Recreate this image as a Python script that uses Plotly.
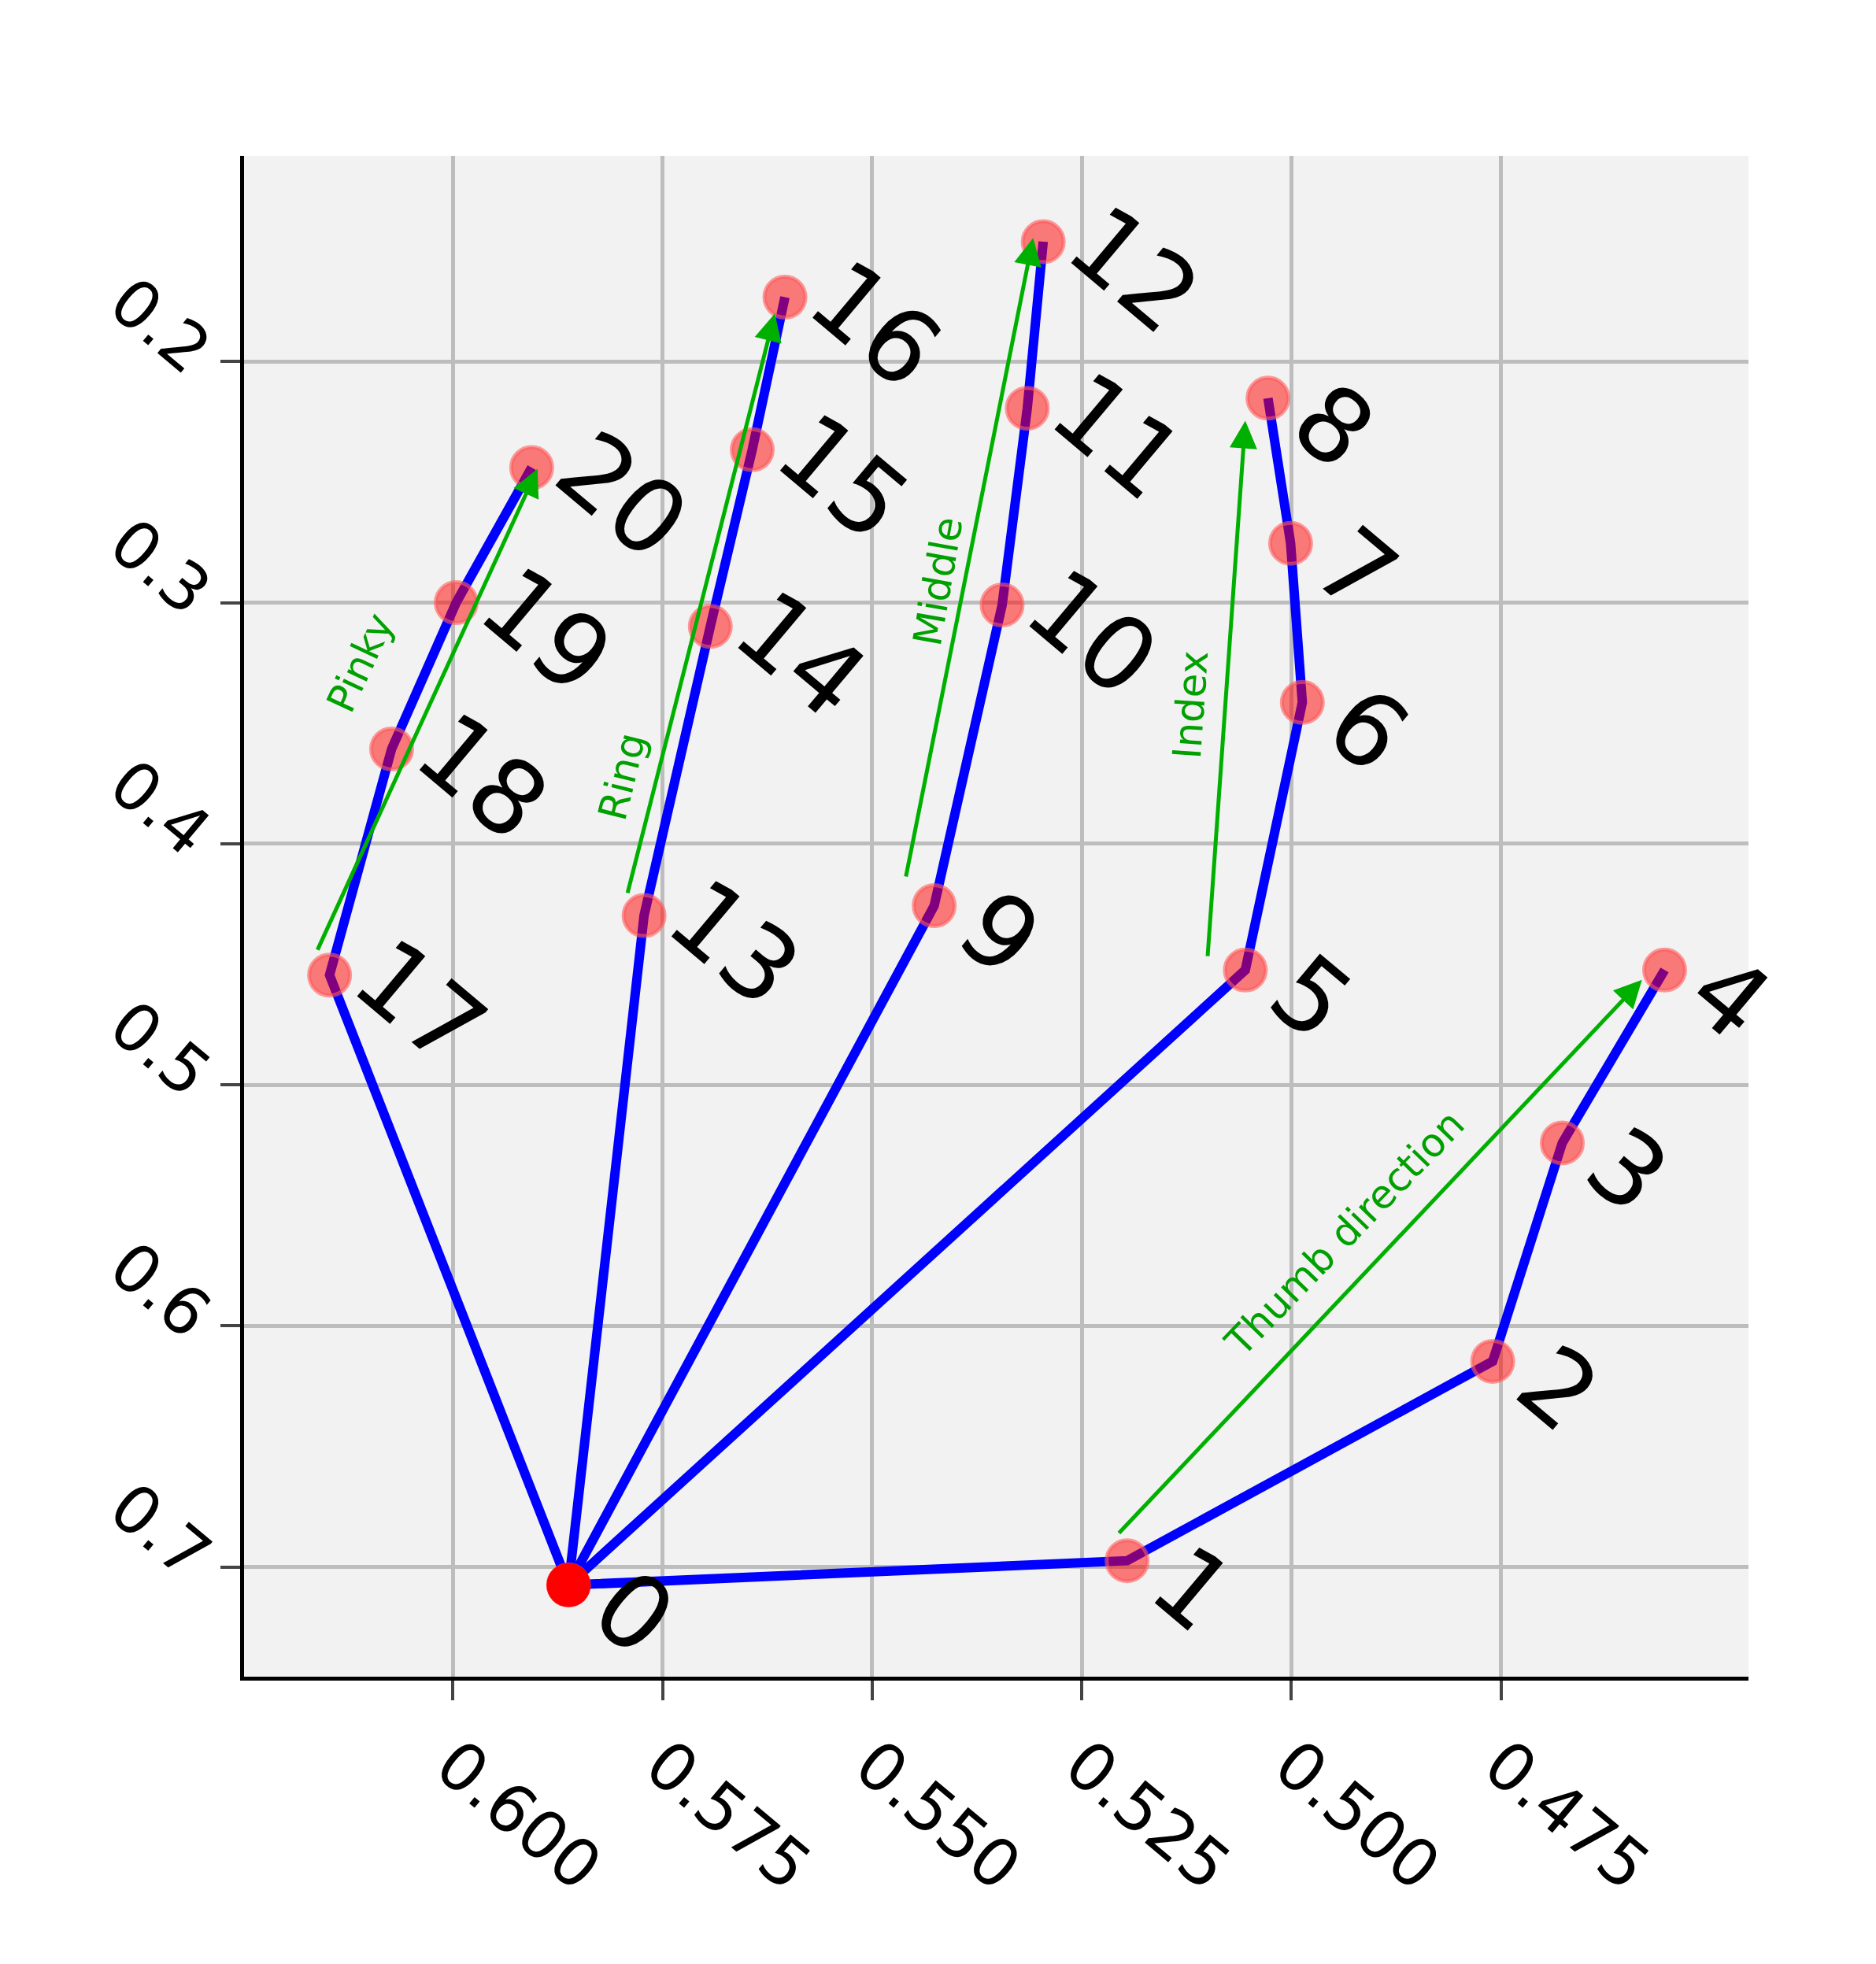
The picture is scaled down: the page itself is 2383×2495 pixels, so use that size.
import plotly.graph_objects as go

ids = list(range(21))
xs = [0.5862,0.5196,0.4760,0.4677,0.4555,0.5055,0.4987,0.5001,0.5028,0.5426,0.5345,
      0.5315,0.5296,0.5772,0.5693,0.5643,0.5604,0.6147,0.6073,0.5996,0.5906]
ys = [0.7075,0.6974,0.6147,0.5241,0.4524,0.4524,0.3414,0.2754,0.2152,0.4257,0.3010,
      0.2194,0.1503,0.4298,0.3099,0.2366,0.1733,0.4545,0.3607,0.3000,0.2440]
chains = [[0,1,2,3,4],[0,5,6,7,8],[0,9,10,11,12],[0,13,14,15,16],[0,17,18,19,20]]
arrow_names = ["Thumb direction","Index","Middle","Ring","Pinky"]
arrow_start = [(0.5207,0.6864),(0.5100,0.4471),(0.5460,0.4141),(0.5792,0.4209),(0.6162,0.4445)]
arrow_end = [(0.4582,0.4565),(0.5055,0.2246),(0.5308,0.1487),(0.5616,0.1801),(0.5899,0.2445)]
arrow_angle = [-46,-86,-80,-76,-65]
label_shift = [(-45,30),(-45,-20),(-40,-30),(-100,-220),(-85,60)]

fig = go.Figure()
for c in chains:
    fig.add_trace(go.Scatter(x=[xs[i] for i in c], y=[ys[i] for i in c], mode="lines",
                             line=dict(color="#0000ff", width=12), showlegend=False))
fig.add_trace(go.Scatter(x=xs, y=ys, mode="markers", showlegend=False,
                         marker=dict(color="rgba(255,0,0,0.5)", size=52,
                                     line=dict(color="rgba(255,90,90,0.6)", width=5))))
fig.add_trace(go.Scatter(x=[xs[0]], y=[ys[0]], mode="markers", showlegend=False,
                         marker=dict(color="red", size=56)))

ann = []
for i in ids:
    ann.append(dict(x=xs[i], y=ys[i], text=str(i), showarrow=False, xanchor="left",
                    yanchor="middle", xshift=0, yshift=-35, textangle=40,
                    font=dict(size=130, color="black", family="DejaVu Sans")))
for n, s, e, a, sh in zip(arrow_names, arrow_start, arrow_end, arrow_angle, label_shift):
    ann.append(dict(x=e[0], y=e[1], ax=s[0], ay=s[1], xref="x", yref="y", axref="x", ayref="y",
                    showarrow=True, arrowhead=2, arrowsize=1.4, arrowwidth=5, arrowcolor="#00b000", text=""))
    mx, my = (s[0]+e[0])/2, (s[1]+e[1])/2
    ann.append(dict(x=mx, y=my, text=n, showarrow=False, textangle=a,
                    xshift=sh[0], yshift=sh[1],
                    font=dict(size=50, color="#00a000", family="DejaVu Sans")))
fig.update_layout(annotations=ann, width=2383, height=2495,
                  margin=dict(l=302, r=170, t=190, b=373),
                  paper_bgcolor="white", plot_bgcolor="#f2f2f2")
fig.update_xaxes(range=[0.6249,0.4455], tickvals=[0.600,0.575,0.550,0.525,0.500,0.475],
                 ticktext=["0.600","0.575","0.550","0.525","0.500","0.475"], tickangle=40,
                 ticks="outside", ticklen=25, tickwidth=4, gridcolor="#bdbdbd", gridwidth=5,
                 showline=True, linecolor="black", linewidth=5, zeroline=False,
                 tickfont=dict(size=84, family="DejaVu Sans", color="black"))
fig.update_yaxes(range=[0.7455,0.1147], tickvals=[0.2,0.3,0.4,0.5,0.6,0.7],
                 ticktext=["0.2","0.3","0.4","0.5","0.6","0.7"], tickangle=40,
                 ticks="outside", ticklen=25, tickwidth=4, gridcolor="#bdbdbd", gridwidth=5,
                 showline=True, linecolor="black", linewidth=5, zeroline=False,
                 tickfont=dict(size=84, family="DejaVu Sans", color="black"))
fig.write_html("out.html")
